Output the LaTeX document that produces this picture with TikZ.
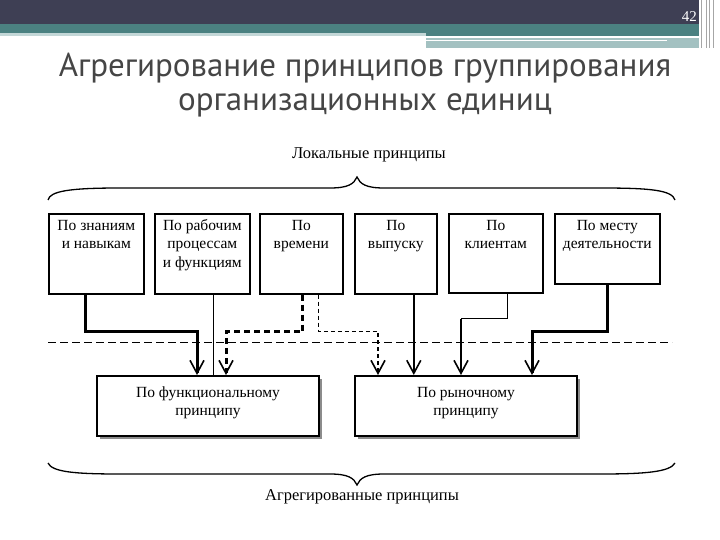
\documentclass[tikz,border=0pt]{standalone}
\usepackage{fontspec}
\setmainfont{Liberation Serif}
\newfontfamily\titlefont{PT Sans}
\usetikzlibrary{arrows.meta,shadows}
\definecolor{hdark}{HTML}{3E3F54}
\definecolor{hteal}{HTML}{4B8181}
\definecolor{hlight}{HTML}{A3C1C1}
\definecolor{hpale}{HTML}{C3D7D7}
\definecolor{titlegray}{HTML}{454545}
\newcommand{\cellstack}[1]{\begin{tabular}[t]{@{}c@{}}#1\end{tabular}}
\begin{document}
\begin{tikzpicture}[x=1pt,y=-1pt,
  box/.style={draw,line width=1.6pt,fill=white,anchor=north west,inner sep=0pt},
  boxtext/.style={anchor=base,font=\fontsize{15.5}{18.5}\selectfont,inner sep=0pt},
  bigbox/.style={draw,line width=2pt,fill=white,anchor=north west,inner sep=0pt,
    drop shadow={shadow xshift=3pt,shadow yshift=-3pt,fill=black!45,opacity=1}},
  tipv/.style={-{Straight Barb[length=13pt,width=14pt,line width=1.6pt]}},
  thickl/.style={line width=3pt},
  medl/.style={line width=2pt},
  thinl/.style={line width=0.9pt},
  bracel/.style={line width=1.3pt},
  caption/.style={font=\fontsize{16.5}{16.5}\selectfont,inner sep=0pt}]
\useasboundingbox (0,0) rectangle (720,540);
% header
\fill[hdark] (0,0) rectangle (699,24);
\fill[hteal] (0,24) rectangle (699,33);
\fill[hpale] (0,33) rectangle (426,36);
\fill[hteal] (426,33) rectangle (699,36);
\fill[hlight] (426,38) rectangle (699,48);
\fill[white] (426,40) rectangle (667,41.5);
\foreach \xx in {701,706,709,713} \draw[gray!70,line width=0.6pt] (\xx,0) -- (\xx,48);
\node[anchor=base east,text=white,font=\fontsize{15}{15}\selectfont,inner sep=0pt] (pg) at (697,22) {42};
% title
\node[anchor=base,text=titlegray,font=\titlefont\fontsize{33}{34}\selectfont,inner sep=0pt] (title1) at (365,77) {Агрегирование принципов группирования};
\node[anchor=base,text=titlegray,font=\titlefont\fontsize{33}{34}\selectfont,inner sep=0pt] (title2) at (365,111) {организационных единиц};
% top caption and brace
\node[caption] (loc) at (369,155) {Локальные принципы};
\draw[bracel] (48,200) .. controls (50,191) and (70,188) .. (120,188) -- (330,188)
  .. controls (348,188) and (354,184) .. (357,177)
  .. controls (360,184) and (366,188) .. (384,188) -- (600,188)
  .. controls (650,188) and (672,190) .. (675,200);
% top boxes
\node[box,minimum width=95,minimum height=80] (b1) at (48,213) {};
\node[box,minimum width=95,minimum height=80] (b2) at (154,213) {};
\node[box,minimum width=83,minimum height=80] (b3) at (259,213) {};
\node[box,minimum width=82,minimum height=80] (b4) at (354,213) {};
\node[box,minimum width=94,minimum height=79] (b5) at (448,213) {};
\node[box,minimum width=105,minimum height=70] (b6) at (554,213) {};
\node[boxtext] (t1) at ([yshift=-17pt]b1.north) {\cellstack{По знаниям\\и навыкам}};
\node[boxtext] (t2) at ([yshift=-17pt]b2.north) {\cellstack{По рабочим\\процессам\\и функциям}};
\node[boxtext] (t3) at ([yshift=-17pt]b3.north) {\cellstack{По\\времени}};
\node[boxtext] (t4) at ([yshift=-17pt]b4.north) {\cellstack{По\\выпуску}};
\node[boxtext] (t5) at ([yshift=-17pt]b5.north) {\cellstack{По\\клиентам}};
\node[boxtext] (t6) at ([yshift=-17pt]b6.north) {\cellstack{По месту\\деятельности}};
% dashed separator
\coordinate (dl) at (48,342);
\coordinate (dr) at (672,342);
\draw[line width=0.9pt,dash pattern=on 8pt off 4pt] (dl) -- (dr);
% bottom boxes
\node[bigbox,minimum width=222,minimum height=60] (f) at (96,375) {};
\node[bigbox,minimum width=222,minimum height=60] (m) at (354,375) {};
\node[boxtext] (tf) at ([yshift=-22pt]f.north) {\cellstack{По функциональному\\принципу}};
\node[boxtext] (tm) at ([yshift=-22pt]m.north) {\cellstack{По рыночному\\принципу}};
% connectors
\draw[thickl,tipv] ([xshift=-10.5pt]b1.south) -- ++(0,37) -| ([xshift=-11pt]f.north);
\draw[thinl] ([xshift=11.5pt]b2.south) -- ([xshift=11.5pt]b2.south |- f.north);
\draw[thickl,dash pattern=on 6pt off 4pt,tipv] ([xshift=1.5pt]b3.south) -- ++(0,37) -| ([xshift=18pt]f.north);
\draw[line width=1.3pt,dash pattern=on 4pt off 3pt,tipv] ([xshift=17.5pt]b3.south) -- ++(0,37) -| ([xshift=-88pt]m.north);
\draw[medl,tipv] ([xshift=18pt]b4.south) -- ([xshift=18pt]b4.south |- m.north);
\coordinate (k5) at ([xshift=12pt,yshift=-25pt]b5.south);
\coordinate (m5) at ([xshift=-5pt]m.north);
\coordinate (j5) at (k5 -| m5);
\draw[thinl] ([xshift=12pt]b5.south) -- (k5) -- (j5);
\draw[medl,tipv] (j5) -- (m5);
\draw[thickl,tipv] ([xshift=0.5pt]b6.south) -- ++(0,47) -| ([xshift=66pt]m.north);
% bottom brace and caption
\draw[bracel] (48,463) .. controls (52,472) and (75,474) .. (120,474) -- (330,474)
  .. controls (348,474) and (354,478) .. (357,485)
  .. controls (360,478) and (366,474) .. (384,474) -- (600,474)
  .. controls (645,474) and (670,472) .. (675,463);
\node[caption] (agg) at (362,497) {Агрегированные принципы};
\end{tikzpicture}
\end{document}
